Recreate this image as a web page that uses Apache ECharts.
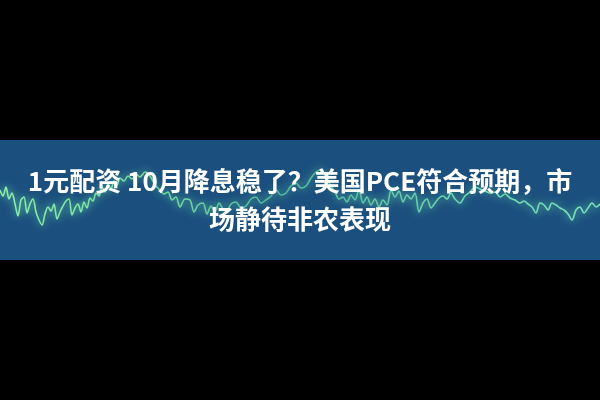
<!DOCTYPE html>
<html>
<head>
<meta charset="utf-8">
<script src="https://cdn.jsdelivr.net/npm/echarts@6/dist/echarts.min.js"></script>
<style>html,body{margin:0;padding:0;background:#000;}#c{width:600px;height:400px;}</style>
</head>
<body>
<div id="c"></div>
<script>
// wave x positions (px across banner) and heights above band bottom
var waveX = [0,3,6,9,12,15,18,21,24,27,30,33,36,39,42,45,48,51,54,57,60,63,66,69,72,75,78,81,84,87,90,93,96,99,102,105,108,111,114,117,120,124,128,132,136,140,145,150,155,160,164,168,172,176,180,185,190,194,198,203,207,211,215,219,223,227,231,236,241,246,251,256,261,266,271,276,281,286,291,296,301,306,311,316,321,326,331,335,339,343,347,351,355,359,363,367,371,375,379,383,387,391,395,399,403,407,411,415,419,423,427,431,435,439,443,447,451,455,460,465,470,475,480,485,490,495,500,505,510,515,520,524,528,532,536,540,544,548,552,556,560,564,568,572,576,580,584,588,592,596,600];
var waveY = [190,196,187,199,193,204,216,200,197,213,204,199,212,220,225,214,207,211,204,219,212,206,201,199,215,208,204,212,202,208,198,201,193,196,187,192,184,189,181,185,178,181,176,179,174,177,172,176,185,190,194,192,200,197,207,199,200,212,205,203,214,206,212,203,209,210,204,202,208,206,199,197,203,200,196,190,195,193,186,183,188,186,178,172,170,178,186,192,199,197,202,195,200,190,203,197,205,199,207,200,205,190,197,191,202,195,199,193,212,203,199,208,203,198,196,199,193,199,203,196,192,187,189,191,193,192,197,194,198,200,203,201,204,207,213,203,205,210,203,205,208,210,214,220,210,207,213,208,203,207,204];
var titleLines = ['1元配资 10月降息稳了？美国PCE符合预期，市', '场静待非农表现'];

var data = waveX.map(function (x, i) { return [x, 260 - waveY[i]]; });

var chart = echarts.init(document.getElementById('c'));
chart.setOption({
  backgroundColor: '#000',
  animation: false,
  grid: { left: 0, right: 0, top: 140, bottom: 140, show: true, backgroundColor: '#1b4f7e', borderWidth: 0 },
  xAxis: { type: 'value', min: 0, max: 600, show: false },
  yAxis: { type: 'value', min: 0, max: 120, show: false },
  series: [{
    type: 'line',
    data: data,
    showSymbol: false,
    smooth: 0.3,
    lineStyle: {
      width: 1.6,
      color: new echarts.graphic.LinearGradient(0, 0, 1, 0, [
        { offset: 0, color: '#8ef0a6' },
        { offset: 0.3, color: '#6fd6a0' },
        { offset: 0.45, color: '#4fb79a' },
        { offset: 0.75, color: '#6fd6b0' },
        { offset: 1, color: '#7ae3b8' }
      ]),
      shadowBlur: 8,
      shadowColor: 'rgba(110,240,170,0.9)'
    }
  }],
  graphic: [{
    type: 'text',
    left: 'center',
    top: 162,
    z: 100,
    style: {
      text: titleLines.join('\n'),
      fill: '#ffffff',
      fontSize: 26,
      fontWeight: 'bold',
      lineHeight: 38,
      textAlign: 'center',
      fontFamily: '"Noto Sans CJK SC", "Noto Sans", sans-serif'
    }
  }]
});
</script>
</body>
</html>
